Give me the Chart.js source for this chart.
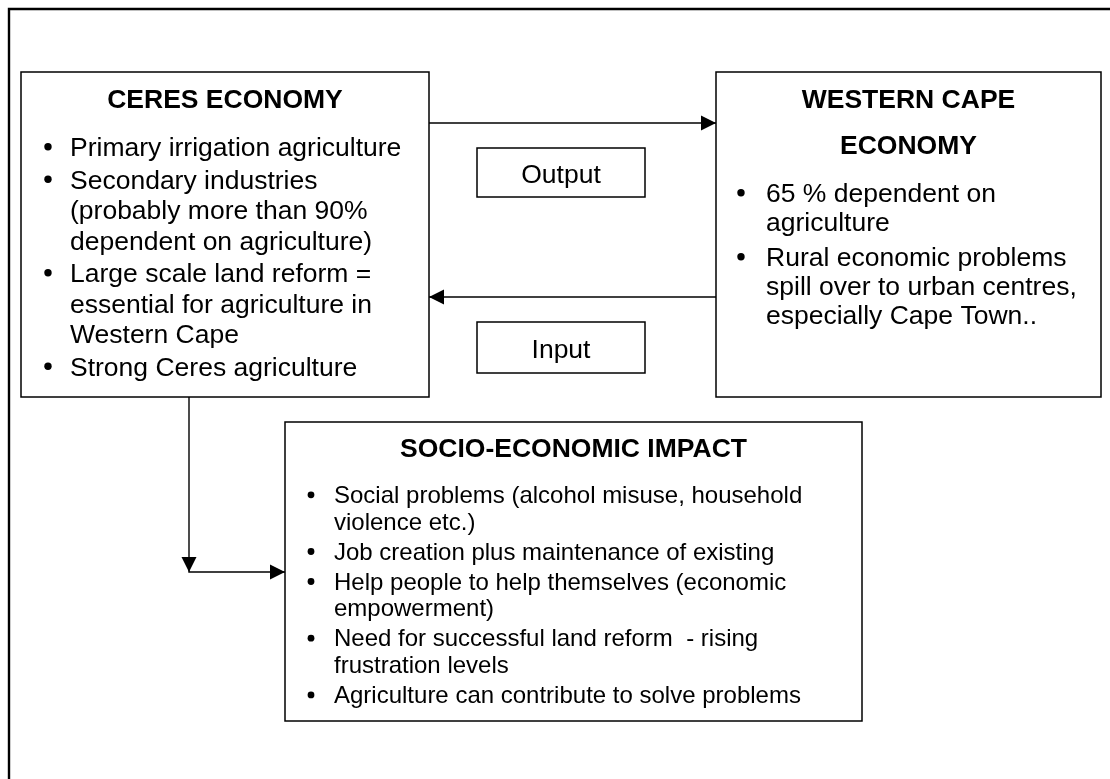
<!DOCTYPE html>
<html><head><meta charset="utf-8">
<script src="https://cdn.jsdelivr.net/npm/chart.js@4/dist/chart.umd.min.js"></script>
<style>html,body{margin:0;padding:0;background:#fff;}canvas{display:block;}</style>
</head><body>
<canvas id="c" width="1110" height="779"></canvas>
<script>
// ---- content ----
const ceresTitle = ["CERES ECONOMY"];
const ceresBullets = [
  ["Primary irrigation agriculture"],
  ["Secondary industries", "(probably more than 90%", "dependent on agriculture)"],
  ["Large scale land reform =", "essential for agriculture in", "Western Cape"],
  ["Strong Ceres agriculture"]
];
const westernCapeTitle = ["WESTERN CAPE", "ECONOMY"];
const westernCapeBullets = [
  ["65 % dependent on", "agriculture"],
  ["Rural economic problems", "spill over to urban centres,", "especially Cape Town.."]
];
const socioTitle = ["SOCIO-ECONOMIC IMPACT"];
const socioBullets = [
  ["Social problems (alcohol misuse, household", "violence etc.)"],
  ["Job creation plus maintenance of existing"],
  ["Help people to help themselves (economic", "empowerment)"],
  ["Need for successful land reform  - rising", "frustration levels"],
  ["Agriculture can contribute to solve problems"]
];
const flowLabels = ["Output", "Input"];

// ---- layout (diagram units) ----
const FONT = "'Liberation Sans', Arial, Helvetica, sans-serif";
const layout = {
  ceres: {x0: 21, y0: 72, x1: 429, y1: 397, titleY: [108], titleSize: 26.5,
          dotX: 48, textX: 70, firstY: 156, lineH: 30.5, itemH: 32.5, size: 26.5, dotR: 3.7, dotDy: 9.2},
  wc:    {x0: 716, y0: 72, x1: 1101, y1: 397, titleY: [108, 154], titleSize: 26.5,
          dotX: 741, textX: 766, firstY: 202, lineH: 29, itemH: 35, size: 26.5, dotR: 3.7, dotDy: 9.2},
  socio: {x0: 285, y0: 422, x1: 862, y1: 721, titleY: [457], titleSize: 26.5,
          dotX: 311, textX: 334, firstY: 503, lineH: 26.7, itemH: 30, size: 24, dotR: 3.4, dotDy: 8.2},
  output: {x0: 477, y0: 148, x1: 645, y1: 197, textY: 183, size: 26.5},
  input:  {x0: 477, y0: 322, x1: 645, y1: 373, textY: 358, size: 26.5}
};
const connectors = {
  frame:  [[9, 779], [9, 9], [1110, 9]],
  output: [[429, 123], [716, 123]],
  input:  [[716, 297], [429, 297]],
  impact: [[189, 397], [189, 572], [285, 572]]
};
const arrowHeads = [
  {x: 716, y: 123, dir: 'right'},
  {x: 429, y: 297, dir: 'left'},
  {x: 189, y: 572, dir: 'down'},
  {x: 285, y: 572, dir: 'right'}
];

const toPts = a => a.map(p => ({x: p[0], y: p[1]}));
const lineDs = (pts, w) => ({
  data: toPts(pts), showLine: true, borderColor: '#000', borderWidth: w,
  pointRadius: 0, fill: false, tension: 0, borderJoinStyle: 'miter'
});

const diagramPlugin = {
  id: 'diagram',
  afterDatasetsDraw(chart) {
    const ctx = chart.ctx, xs = chart.scales.x, ys = chart.scales.y;
    const X = v => xs.getPixelForValue(v), Y = v => ys.getPixelForValue(v);
    ctx.save();
    ctx.strokeStyle = '#000';
    ctx.fillStyle = '#000';
    // boxes
    const rect = (b, w) => {
      ctx.lineWidth = w;
      ctx.strokeRect(X(b.x0), Y(b.y0), X(b.x1) - X(b.x0), Y(b.y1) - Y(b.y0));
    };
    ['ceres', 'wc', 'socio', 'output', 'input'].forEach(k => rect(layout[k], 1.5));
    // arrowheads
    const L = 15, H = 7.5;
    arrowHeads.forEach(a => {
      const x = X(a.x), y = Y(a.y);
      ctx.beginPath();
      if (a.dir === 'right') { ctx.moveTo(x, y); ctx.lineTo(x - L, y - H); ctx.lineTo(x - L, y + H); }
      if (a.dir === 'left')  { ctx.moveTo(x, y); ctx.lineTo(x + L, y - H); ctx.lineTo(x + L, y + H); }
      if (a.dir === 'down')  { ctx.moveTo(x, y); ctx.lineTo(x - H, y - L); ctx.lineTo(x + H, y - L); }
      ctx.closePath(); ctx.fill();
    });
    // text blocks
    ctx.textBaseline = 'alphabetic';
    const block = (b, titles, bullets) => {
      ctx.textAlign = 'center';
      ctx.font = 'bold ' + b.titleSize + 'px ' + FONT;
      const cx = (X(b.x0) + X(b.x1)) / 2;
      titles.forEach((t, i) => ctx.fillText(t, cx, Y(b.titleY[i])));
      ctx.textAlign = 'left';
      ctx.font = b.size + 'px ' + FONT;
      let y = b.firstY;
      bullets.forEach((item, i) => {
        if (i > 0) y += b.itemH - b.lineH;
        ctx.beginPath();
        ctx.arc(X(b.dotX), Y(y - b.dotDy), b.dotR, 0, Math.PI * 2);
        ctx.fill();
        item.forEach((line, j) => {
          if (j > 0) y += 0;
          ctx.fillText(line, X(b.textX), Y(y));
          y += b.lineH;
        });
        y -= b.lineH;
        y += b.lineH;
      });
    };
    // adjust: within an item lines are lineH apart; between items itemH apart
    const block2 = (b, titles, bullets) => {
      ctx.textAlign = 'center';
      ctx.font = 'bold ' + b.titleSize + 'px ' + FONT;
      const cx = (X(b.x0) + X(b.x1)) / 2;
      titles.forEach((t, i) => ctx.fillText(t, cx, Y(b.titleY[i])));
      ctx.textAlign = 'left';
      ctx.font = b.size + 'px ' + FONT;
      let y = b.firstY;
      bullets.forEach((item, i) => {
        if (i > 0) y += b.itemH;
        ctx.beginPath();
        ctx.arc(X(b.dotX), Y(y - b.dotDy), b.dotR, 0, Math.PI * 2);
        ctx.fill();
        item.forEach((line, j) => {
          if (j > 0) y += b.lineH;
          ctx.fillText(line, X(b.textX), Y(y));
        });
      });
    };
    block2(layout.ceres, ceresTitle, ceresBullets);
    block2(layout.wc, westernCapeTitle, westernCapeBullets);
    block2(layout.socio, socioTitle, socioBullets);
    // flow labels
    ctx.textAlign = 'center';
    [layout.output, layout.input].forEach((b, i) => {
      ctx.font = b.size + 'px ' + FONT;
      ctx.fillText(flowLabels[i], (X(b.x0) + X(b.x1)) / 2, Y(b.textY));
    });
    ctx.restore();
  }
};

new Chart(document.getElementById('c'), {
  type: 'scatter',
  data: {
    datasets: [
      lineDs(connectors.frame, 2.4),
      lineDs(connectors.output, 1.4),
      lineDs(connectors.input, 1.4),
      lineDs(connectors.impact, 1.4)
    ]
  },
  options: {
    responsive: false,
    animation: false,
    events: [],
    layout: {padding: 0},
    plugins: {legend: {display: false}, tooltip: {enabled: false}},
    scales: {
      x: {type: 'linear', min: 0, max: 1110, display: false},
      y: {type: 'linear', min: 0, max: 779, reverse: true, display: false}
    }
  },
  plugins: [diagramPlugin]
});
</script>
</body></html>
